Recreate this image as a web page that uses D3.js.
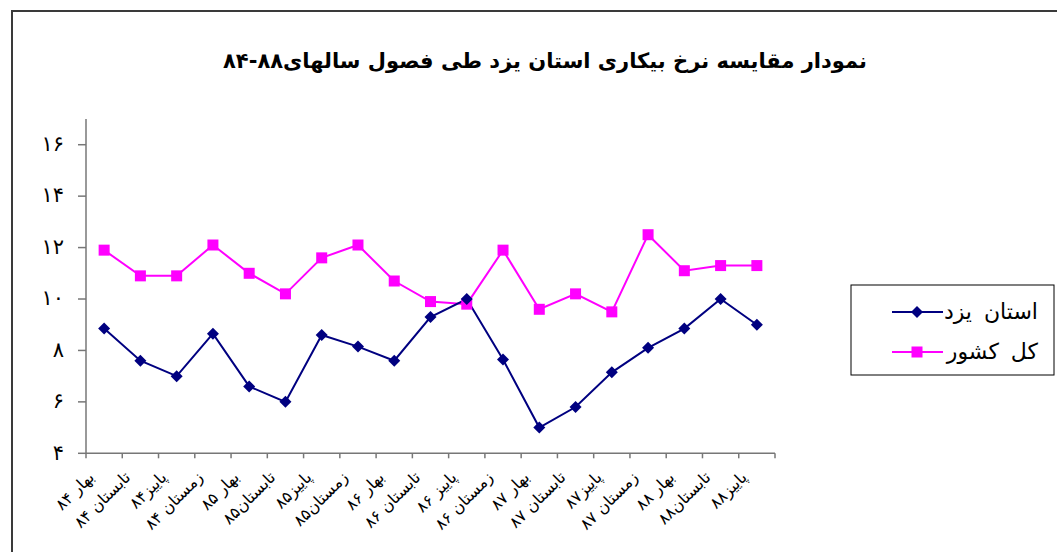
<!DOCTYPE html>
<html><head><meta charset="utf-8">
<script src="https://cdn.jsdelivr.net/npm/d3@7"></script>
<style>body{margin:0;background:#fff}svg{display:block}text{font-family:"DejaVu Sans",sans-serif}</style>
</head><body><svg id="c" width="1057" height="552"></svg>
<script>
const title = "نمودار مقایسه نرخ بیکاری استان یزد طی فصول سالهای۸۸-۸۴";
const categories = ["بهار ۸۴","تابستان ۸۴","پاییز۸۴","زمستان ۸۴","بهار ۸۵","تابستان۸۵","پاییز۸۵","زمستان۸۵","بهار ۸۶","تابستان ۸۶","پاییز ۸۶","زمستان ۸۶","بهار ۸۷","تابستان ۸۷","پاییز۸۷","زمستان ۸۷","بهار ۸۸","تابستان۸۸","پاییز۸۸"];
const yazd = [8.85,7.6,7.0,8.65,6.6,6.0,8.6,8.15,7.6,9.3,10.0,7.65,5.0,5.8,7.15,8.1,8.85,10.0,9.0];
const country = [11.9,10.9,10.9,12.1,11.0,10.2,11.6,12.1,10.7,9.9,9.8,11.9,9.6,10.2,9.5,12.5,11.1,11.3,11.3];
const seriesNames = ["استان یزد","کل کشور"];
const yTicks = [4,6,8,10,12,14,16];
const yTickLabels = ["۴","۶","۸","۱۰","۱۲","۱۴","۱۶"];

const svg = d3.select("#c");
svg.append("path").attr("d","M12,552 V11 H1057").attr("fill","none").attr("stroke","#3a3a3a").attr("stroke-width",2);

svg.append("text").attr("x",545).attr("y",68).attr("text-anchor","middle")
  .attr("font-size",21).attr("font-weight","bold").text(title);

const x = d3.scaleBand().domain(categories).range([86,775]);
const y = d3.scaleLinear().domain([4,17]).range([453.3,119]);
const cx = d => x(d) + x.bandwidth()/2;

const ya = svg.append("g");
ya.append("line").attr("x1",86).attr("x2",86).attr("y1",y(17)).attr("y2",y(4)).attr("stroke","#777").attr("stroke-width",1.5);
yTicks.forEach((t,i)=>{
  ya.append("line").attr("x1",78).attr("x2",86).attr("y1",y(t)).attr("y2",y(t)).attr("stroke","#777").attr("stroke-width",1.5);
  ya.append("text").attr("x",64).attr("y",y(t)).attr("dy","0.3em").attr("text-anchor","end").attr("font-size",21).text(yTickLabels[i]);
});
const xa = svg.append("g");
xa.append("line").attr("x1",86).attr("x2",775).attr("y1",y(4)).attr("y2",y(4)).attr("stroke","#777").attr("stroke-width",1.5);
const edges = categories.map(c=>x(c)).concat([775]);
edges.forEach(e=>{
  xa.append("line").attr("x1",e).attr("x2",e).attr("y1",y(4)).attr("y2",y(4)+5).attr("stroke","#777").attr("stroke-width",1.5);
});
categories.forEach(c=>{
  xa.append("text").attr("transform",`translate(${cx(c)-9},${y(4)+25}) rotate(-45)`)
    .attr("text-anchor","end").attr("font-size",16).text(c);
});

const line = d3.line().x((d,i)=>cx(categories[i])).y(d=>y(d));
svg.append("path").datum(country).attr("d",line).attr("fill","none").attr("stroke","#ff00ff").attr("stroke-width",2);
svg.append("path").datum(yazd).attr("d",line).attr("fill","none").attr("stroke","#000080").attr("stroke-width",2);

svg.selectAll(".sq").data(country).join("rect").attr("x",(d,i)=>cx(categories[i])-5.5).attr("y",d=>y(d)-5.5)
  .attr("width",11).attr("height",11).attr("fill","#ff00ff");
svg.selectAll(".dm").data(yazd).join("path")
  .attr("transform",(d,i)=>`translate(${cx(categories[i])},${y(d)}) rotate(45)`)
  .attr("d",d3.symbol().type(d3.symbolSquare).size(72)()).attr("fill","#000080");

const lg = svg.append("g");
lg.append("rect").attr("x",851).attr("y",285).attr("width",203).attr("height",90).attr("fill","#fff").attr("stroke","#000").attr("stroke-width",1);
const rows = [{n:seriesNames[0],c:"#000080",yy:312,m:"d"},{n:seriesNames[1],c:"#ff00ff",yy:352,m:"s"}];
rows.forEach(r=>{
  lg.append("line").attr("x1",892).attr("x2",943).attr("y1",r.yy).attr("y2",r.yy).attr("stroke",r.c).attr("stroke-width",2);
  if(r.m==="d") lg.append("path").attr("transform",`translate(917,${r.yy}) rotate(45)`).attr("d",d3.symbol().type(d3.symbolSquare).size(72)()).attr("fill",r.c);
  else lg.append("rect").attr("x",911.5).attr("y",r.yy-5.5).attr("width",11).attr("height",11).attr("fill",r.c);
  lg.append("text").attr("x",1038).attr("y",r.yy).attr("dy","0.3em").attr("text-anchor","end").attr("font-size",22).attr("word-spacing","5px").text(r.n);
});
</script></body></html>
